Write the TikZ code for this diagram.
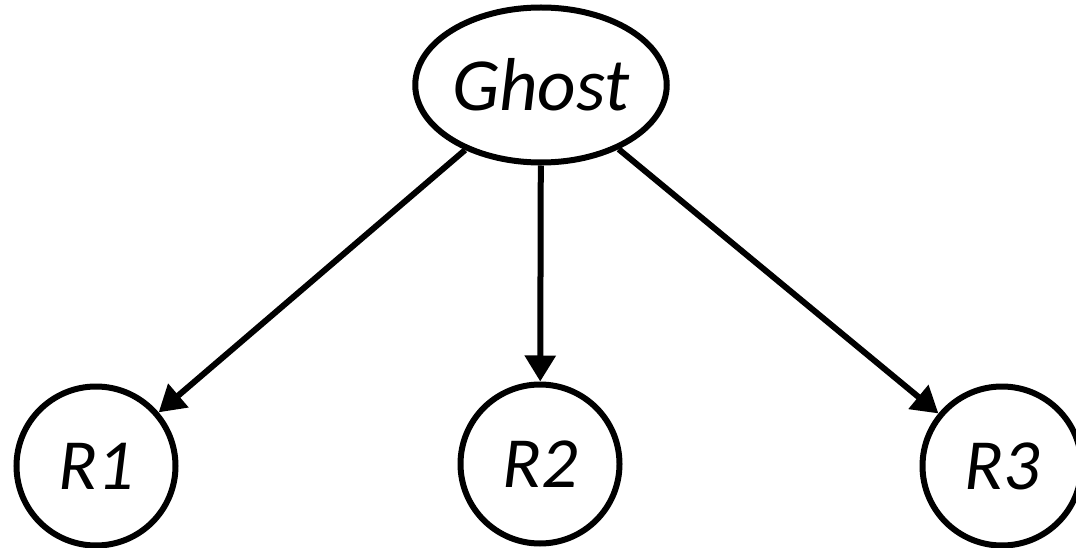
\documentclass[tikz,border=0pt]{standalone}
\usepackage{fontspec}
\setmainfont{Carlito}
\usetikzlibrary{shapes.geometric,arrows.meta}
\tikzset{
  lbl/.style={font=\fontsize{72}{86}\selectfont\itshape, inner sep=0pt, line width=6pt, draw=black},
  ghostnode/.style={lbl, font=\fontsize{75}{90}\selectfont\itshape, ellipse, minimum width=246pt, minimum height=155pt},
  rnode/.style={lbl, circle, minimum size=159pt},
  arr/.style={line width=6pt, -{Triangle[length=26pt,width=30pt]}}
}
\begin{document}
\begin{tikzpicture}[x=1pt,y=-1pt]
\useasboundingbox (0,0) rectangle (1076,548);
\node[ghostnode] (g) at (541,85) {Ghost};
\node[rnode] (r1) at (96,466) {R1};
\node[rnode] (r2) at (540,464) {R2};
\node[rnode] (r3) at (1002,466) {R3};
\draw[arr] (g) -- (r1);
\draw[arr] (g) -- (r2);
\draw[arr] (g) -- (r3);
\end{tikzpicture}
\end{document}
